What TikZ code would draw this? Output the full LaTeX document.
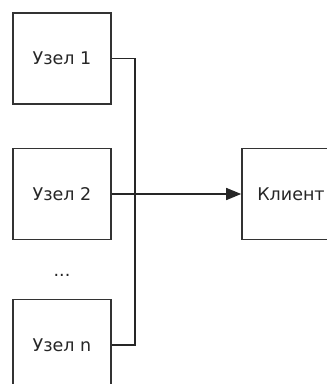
\documentclass[tikz,border=0pt]{standalone}
\usepackage{fontspec}
\setmainfont{DejaVu Sans}
\usetikzlibrary{arrows.meta}
\begin{document}
\begin{tikzpicture}[x=1pt,y=-1pt,
  lbl/.style={font=\fontsize{17.5}{20}\selectfont,text=black!85},
  box/.style={lbl,draw=black!80,line width=1.6pt,minimum width=98pt,minimum height=91pt,inner sep=0pt,anchor=center},
  conn/.style={draw=black!85,line width=1.5pt}]
\useasboundingbox (0,0) rectangle (327,384);
\clip (0,0) rectangle (327,384);
\node[box] (n1) at (62,58.5) {Узел 1};
\node[box] (n2) at (62,194) {Узел 2};
\node[lbl] (dots) at (62,275) {...};
\node[box] (nn) at (62,345) {Узел n};
\node[box] (cl) at (291,194) {Клиент};
\coordinate (j1) at (135,0);
\draw[conn] (n1.east) -- (n1.east -| j1) -- (nn.east -| j1) -- (nn.east);
\draw[conn,-{Triangle[length=15pt,width=12pt]}] (n2.east) -- (cl.west);
\end{tikzpicture}
\end{document}
